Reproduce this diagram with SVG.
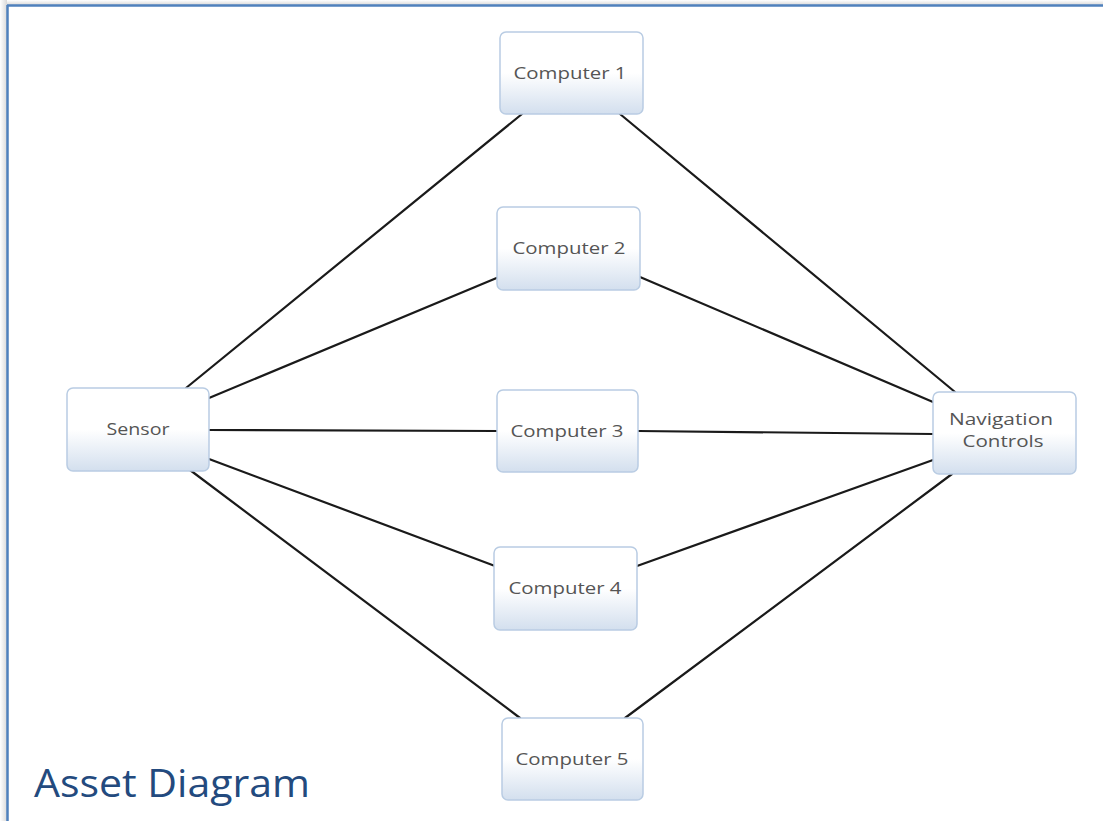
<svg xmlns="http://www.w3.org/2000/svg" width="1103" height="821" viewBox="0 0 1103 821">
  <defs>
    <linearGradient id="boxFill" x1="0" y1="0" x2="0" y2="1">
      <stop offset="0" stop-color="#ffffff"/>
      <stop offset="0.5" stop-color="#ffffff"/>
      <stop offset="1" stop-color="#d3dfee"/>
    </linearGradient>
    <linearGradient id="shadowTop" x1="0" y1="0" x2="0" y2="1">
      <stop offset="0" stop-color="#ffffff"/>
      <stop offset="1" stop-color="#d9d9d9"/>
    </linearGradient>
    <linearGradient id="shadowLeft" x1="0" y1="0" x2="1" y2="0">
      <stop offset="0" stop-color="#ffffff"/>
      <stop offset="1" stop-color="#d9d9d9"/>
    </linearGradient>
    <style>
      .box { fill: url(#boxFill); stroke: #b9cce3; stroke-width: 1.5; }
      .label { font-family: "Open Sans", "Noto Sans", sans-serif; font-size: 17px; fill: #555555; text-anchor: middle; }
      .small { font-size: 15.5px; }
      .edge { stroke: #1a1a1a; stroke-width: 2.2; fill: none; stroke-linecap: round; }
      .title { font-family: "Open Sans", "Noto Sans", sans-serif; font-size: 39px; fill: #234a7e; }
    </style>
  </defs>

  <!-- page background and framed panel -->
  <rect width="1103" height="821" fill="#ffffff"/>
  <rect x="0" y="0" width="1103" height="5" fill="url(#shadowTop)"/>
  <rect x="0" y="0" width="7" height="821" fill="url(#shadowLeft)"/>
  <line x1="7" y1="5.5" x2="1103" y2="5.5" stroke="#4f81bd" stroke-width="2.5"/>
  <line x1="7.5" y1="5" x2="7.5" y2="821" stroke="#4f81bd" stroke-width="2.5"/>

  <!-- connectors -->
  <g id="connectors">
    <line class="edge" x1="186" y1="388" x2="522" y2="114"/>
    <line class="edge" x1="209" y1="398" x2="499" y2="277"/>
    <line class="edge" x1="209" y1="430" x2="497" y2="431"/>
    <line class="edge" x1="209" y1="459" x2="495" y2="566"/>
    <line class="edge" x1="190" y1="470" x2="520" y2="718"/>
    <line class="edge" x1="620" y1="114" x2="955" y2="392"/>
    <line class="edge" x1="640" y1="277" x2="933" y2="402"/>
    <line class="edge" x1="638" y1="431" x2="933" y2="434"/>
    <line class="edge" x1="637" y1="566" x2="933" y2="460"/>
    <line class="edge" x1="625" y1="718" x2="952" y2="474"/>
  </g>

  <!-- nodes -->
  <g id="sensor">
    <rect class="box" x="67" y="388" width="142" height="83" rx="6"/>
    <text class="label" x="138" y="435" textLength="63" lengthAdjust="spacingAndGlyphs">Sensor</text>
  </g>
  <g id="computer1">
    <rect class="box" x="500" y="32" width="143" height="82" rx="6"/>
    <text class="label" x="570" y="79" textLength="113" lengthAdjust="spacingAndGlyphs">Computer 1</text>
  </g>
  <g id="computer2">
    <rect class="box" x="497" y="207" width="143" height="83" rx="6"/>
    <text class="label" x="569" y="254" textLength="113" lengthAdjust="spacingAndGlyphs">Computer 2</text>
  </g>
  <g id="computer3">
    <rect class="box" x="497" y="390" width="141" height="82" rx="6"/>
    <text class="label" x="567" y="437" textLength="113" lengthAdjust="spacingAndGlyphs">Computer 3</text>
  </g>
  <g id="computer4">
    <rect class="box" x="494" y="547" width="143" height="83" rx="6"/>
    <text class="label" x="565" y="594" textLength="113" lengthAdjust="spacingAndGlyphs">Computer 4</text>
  </g>
  <g id="computer5">
    <rect class="box" x="502" y="718" width="141" height="82" rx="6"/>
    <text class="label" x="572" y="765" textLength="113" lengthAdjust="spacingAndGlyphs">Computer 5</text>
  </g>
  <g id="navigation-controls">
    <rect class="box" x="933" y="392" width="143" height="82" rx="6"/>
    <text class="label small" x="1001" y="425" textLength="104" lengthAdjust="spacingAndGlyphs">Navigation</text>
    <text class="label small" x="1003" y="447" textLength="81" lengthAdjust="spacingAndGlyphs">Controls</text>
  </g>

  <!-- slide title -->
  <text class="title" x="34" y="797" textLength="276" lengthAdjust="spacingAndGlyphs">Asset Diagram</text>
</svg>
